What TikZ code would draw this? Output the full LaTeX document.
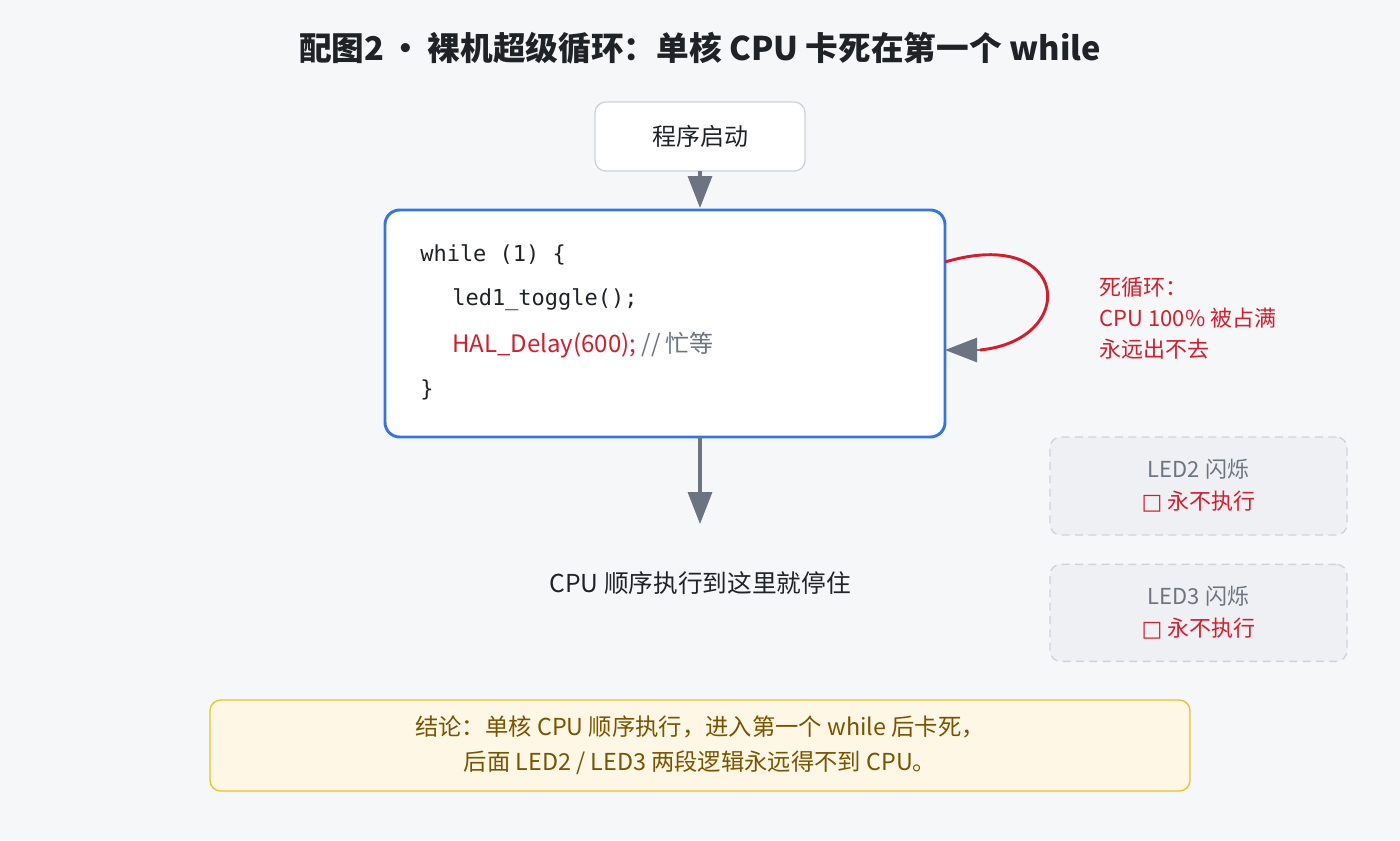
\documentclass[tikz,border=0pt]{standalone}
\usepackage{fontspec}
\setmainfont{Noto Sans CJK SC}
\newfontfamily\codefont{DejaVu Sans Mono}
\newfontfamily\symfont{DejaVu Sans}
\usetikzlibrary{positioning,arrows.meta}

\definecolor{bgcol}{HTML}{F6F7F9}
\definecolor{inkcol}{HTML}{1F2328}
\definecolor{bluecol}{HTML}{3574E3}
\definecolor{redcol}{HTML}{D21F2E}
\definecolor{graycol}{HTML}{6B7480}
\definecolor{linecol}{HTML}{CDD3DB}
\definecolor{ledfill}{HTML}{EFF0F3}
\definecolor{notefill}{HTML}{FFF7E5}
\definecolor{noteline}{HTML}{EBC12E}
\definecolor{notetext}{HTML}{7A5300}

\tikzset{
  startbox/.style={draw=linecol, fill=white, rounded corners=8pt, line width=1pt},
  loopbox/.style={draw=bluecol, fill=white, rounded corners=11pt, line width=2.2pt},
  ledbox/.style={draw=linecol, fill=ledfill, dashed, dash pattern=on 6pt off 4pt, rounded corners=8pt, line width=1pt, align=center, font=\fontsize{16.5}{24}\selectfont},
  notebox/.style={draw=noteline, fill=notefill, rounded corners=8pt, line width=1pt, align=center, text=notetext, font=\fontsize{17.5}{26}\selectfont},
  flow/.style={draw=graycol, line width=2.4pt, -{Triangle[width=18pt,length=24pt]}},
  code/.style={anchor=west, font=\codefont\fontsize{16.5}{18}\selectfont, text=inkcol, inner sep=0pt}
}

\begin{document}
\begin{tikzpicture}[x=0.75pt, y=-0.75pt]
\fill[bgcol] (0,0) rectangle (1400,840);
\useasboundingbox (0,0) rectangle (1400,840);

% title
\node[font=\bfseries\fontsize{24.5}{28}\selectfont, text=inkcol] (title) at (700,48) {配图2\,•\,裸机超级循环：单核 CPU 卡死在第一个 while};

% start and main loop
\draw[startbox] (595,102) rectangle (805,171);
\node[font=\fontsize{18}{20}\selectfont, text=inkcol] (start) at (700,136) {程序启动};
\draw[loopbox] (385,210) rectangle (945,437);
\coordinate (loopTop) at (700,208);
\coordinate (loopBot) at (700,437);
\coordinate (loopOut) at (945,262);
\coordinate (loopIn) at (945,350);

\node[code] (l1) at (420,255) {while (1) \{};
\node[code] (l2) at (452,300) {led1\_toggle();};
\node[anchor=west, inner sep=0pt, font=\fontsize{18}{20}\selectfont] (l3) at (452,345)
  {\textcolor{redcol}{HAL\_Delay(600);} \textcolor{graycol}{// 忙等}};
\node[code] (l4) at (420,390) {\}};

\draw[flow] (start.south |- 0,171) -- (loopTop);

% self loop
\draw[redcol, line width=2.2pt] (loopOut) .. controls (1070,225) and (1080,340) .. (980,350);
\draw[graycol, line width=2pt, -{Triangle[width=18pt,length=24pt]}] (980,350) -- (loopIn);
\node[anchor=north west, align=left, text=redcol, font=\fontsize{16.5}{23.5}\selectfont] (busy) at (1095,272) {死循环：\\CPU 100\% 被占满\\永远出不去};

% stuck
\coordinate (stopTip) at (700,524);
\draw[flow] (loopBot) -- (stopTip);
\node[font=\fontsize{18.5}{20}\selectfont, text=inkcol] (stop) at (700,583) {CPU 顺序执行到这里就停住};

% never reached
\node[ledbox, minimum width=297*0.75pt, minimum height=98*0.75pt] (led2) at (1198.5,486)
  {\textcolor{graycol}{LED2 闪烁}\\\textcolor{redcol}{{\symfont □} 永不执行}};
\node[ledbox, minimum width=297*0.75pt, minimum height=97*0.75pt, below=28*0.75pt of led2] (led3)
  {\textcolor{graycol}{LED3 闪烁}\\\textcolor{redcol}{{\symfont □} 永不执行}};

% conclusion
\node[notebox, minimum width=980*0.75pt, minimum height=91*0.75pt] (note) at (700,745.5)
  {结论：单核 CPU 顺序执行，进入第一个 while 后卡死，\\后面 LED2 / LED3 两段逻辑永远得不到 CPU。};
\end{tikzpicture}
\end{document}
